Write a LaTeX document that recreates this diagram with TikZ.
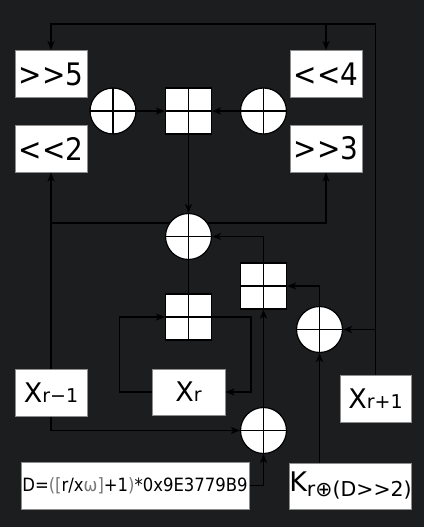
\documentclass[tikz,border=0pt]{standalone}
\usepackage{fontspec}
\setmainfont{DejaVu Sans}
\newfontfamily\narrowfont[FakeStretch=0.9]{DejaVu Sans}
\usetikzlibrary{arrows.meta}

\definecolor{bgdark}{RGB}{28,29,31}
\definecolor{fadedtext}{RGB}{120,120,120}
\pgfdeclarelayer{canvas}
\pgfdeclarelayer{behind}
\pgfsetlayers{canvas,behind,main}

\tikzset{
  wire/.style={black, line width=1.5pt},
  feed/.style={wire, -{Stealth[length=9pt,width=7pt,inset=2.5pt]}},
  regbox/.style={draw=black!45, line width=1pt, fill=white, inner sep=0pt, minimum height=47pt},
  crossed/.style={path picture={\draw[line width=1.5pt]
      (path picture bounding box.north) -- (path picture bounding box.south)
      (path picture bounding box.west) -- (path picture bounding box.east);}},
  xorop/.style={circle, draw=black, line width=1.2pt, fill=white, inner sep=0pt, minimum size=46pt, crossed},
  addop/.style={rectangle, draw=black, line width=1.2pt, fill=white, inner sep=0pt, minimum size=46pt, crossed}
}

\begin{document}
\begin{tikzpicture}[x=1pt, y=-1pt]
\begin{pgfonlayer}{canvas}
\fill[bgdark] (0,0) rectangle (424,527);
\end{pgfonlayer}
\useasboundingbox (0,0) rectangle (424,527);
\coordinate (topline) at (0,24);
\coordinate (midline) at (0,223);

% shift boxes
\node[regbox, minimum width=72pt] (shr5) at (51,74) {\narrowfont\fontsize{31}{31}\selectfont >{}>5};
\node[regbox, minimum width=72pt] (shl2) at (51,148.5) {\narrowfont\fontsize{31}{31}\selectfont <{}<2};
\node[regbox, minimum width=72pt] (shl4) at (326,74) {\narrowfont\fontsize{31}{31}\selectfont <{}<4};
\node[regbox, minimum width=72pt] (shr3) at (326,148.5) {\narrowfont\fontsize{31}{31}\selectfont >{}>3};

% operators
\node[xorop] (xorLeft) at (113,111) {};
\node[addop] (addTop) at (188.5,111) {};
\node[xorop] (xorRight) at (263.5,111) {};
\node[xorop] (xorMid) at (188.5,236.5) {};
\node[addop] (addKey) at (263.5,286) {};
\node[addop] (addLoop) at (188.5,317) {};
\node[xorop] (xorKey) at (319.5,329.5) {};
\node[xorop] (xorD) at (263.5,430.5) {};

% state words and constants
\node[regbox, minimum width=72pt] (xprev) at (51,392.5) {\fontsize{27}{27}\selectfont X\fontsize{19}{19}\selectfont r−1};
\node[regbox, minimum width=73pt, minimum height=46pt] (xcur) at (188.5,392) {\fontsize{27}{27}\selectfont X\fontsize{19}{19}\selectfont r};
\node[regbox, minimum width=71pt] (xnext) at (375.5,398.5) {\fontsize{27}{27}\selectfont X\fontsize{19}{19}\selectfont r+1};
\node[regbox, minimum width=228pt] (dbox) at (135,485.5) {\narrowfont\fontsize{18.3}{18.3}\selectfont D={\color{fadedtext}([}r/x{\color{fadedtext}ω]}+1{\color{fadedtext})}*0x9E3779B9};
\node[regbox, minimum width=121pt, minimum height=46pt] (kbox) at (350.5,486) {\fontsize{27}{27}\selectfont K\raisebox{-5pt}{\fontsize{20.5}{20.5}\selectfont r⊕(D>{}>2)}};

% feedback from X_{r+1}
\draw[feed] (xnext.north) |- (shr5.north |- topline) -- (shr5.north);
\draw[feed] (shl4.north |- topline) -- (shl4.north);

% X_{r-1} into the shifts
\draw[feed] (xprev.north) -- (shl2.south);
\begin{pgfonlayer}{behind}
\draw[feed] (xprev.north |- midline) -| (shr3.south);
\end{pgfonlayer}

\draw[feed] (xorLeft.east) -- (addTop.west);
\draw[feed] (xorRight.west) -- (addTop.east);
\draw[feed] (addTop.south) -- (xorMid.north);
\draw[wire] (xorMid.south) -- (addLoop.north);
\draw[feed] (addKey.north) |- (xorMid.east);

% X_r loop
\draw[feed] (xcur.west) -- ++(-32,0) |- (addLoop.west);
\draw[feed] (addLoop.east) -- ++(39,0) |- (xcur.east);

% key path
\draw[feed] (xprev.south) |- (xorD.west);
\draw[feed] (dbox.east) -| (xorD.south);
\draw[feed] (xorD.north) -- (addKey.south);
\draw[feed] (xorKey.south |- kbox.north) -- (xorKey.south);
\draw[feed] (xnext.north |- xorKey.east) -- (xorKey.east);
\draw[feed] (xorKey.north) |- (addKey.east);
\end{tikzpicture}
\end{document}
